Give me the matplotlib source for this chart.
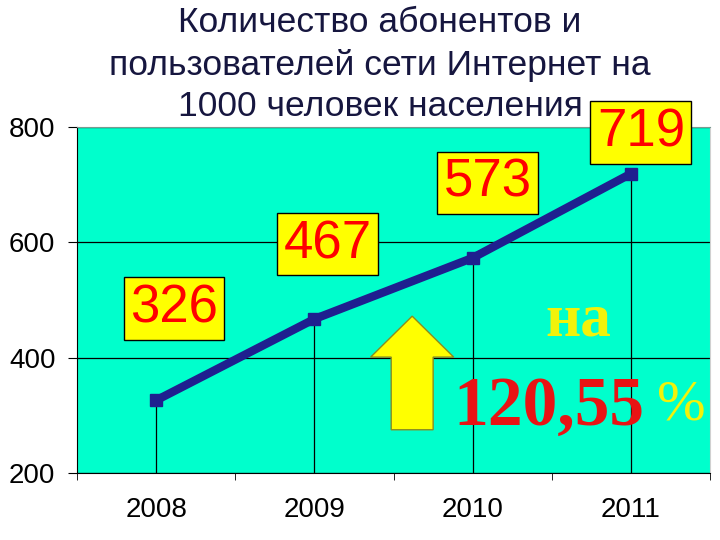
import numpy as np
from matplotlib import pyplot as plt
from matplotlib.patches import FancyArrow

years = ['2008', '2009', '2010', '2011']
users = [326, 467, 573, 719]
# label box offsets from each point, in pixels
label_offsets = [(18, 92), (13, 75), (15, 75), (10, 41)]
title_lines = ['Количество абонентов и',
               'пользователей сети Интернет на',
               '1000 человек населения']

fig = plt.figure(figsize=(7.2, 5.4), dpi=100)
ax = fig.add_axes([77 / 720, 67 / 540, 633 / 720, 346 / 540])
ax.set_facecolor('#00FFCC')

x = np.arange(len(years))
ax.vlines(x, 200, users, color='black', lw=0.9, zorder=2)
ax.plot(x, users, color='#1f1f8f', lw=6, marker='s', markersize=8,
        solid_capstyle='butt', zorder=4)

for xi, v, off in zip(x, users, label_offsets):
    ax.annotate(str(v), (xi, v), xytext=off, textcoords='offset pixels',
                ha='center', va='center', fontsize=38, color='#ff0000',
                family=['Liberation Sans', 'DejaVu Sans'], zorder=6,
                bbox=dict(boxstyle='square,pad=0.12', fc='#ffff00',
                          ec='black', lw=1))

ax.set_xlim(-0.5, 3.5)
ax.set_ylim(200, 800)
ax.set_yticks([200, 400, 600, 800])
ax.yaxis.grid(True, color='black', lw=0.9)
ax.set_axisbelow(True)
ax.tick_params(axis='y', length=6.5, pad=9, labelsize=20, direction='out')
for lab in ax.get_yticklabels():
    lab.set_family(['Liberation Sans', 'DejaVu Sans'])

ax.set_xticks(x)
ax.set_xticklabels(years, fontsize=20, family=['Liberation Sans', 'DejaVu Sans'])
ax.set_xticks(np.arange(-0.5, 4, 1), minor=True)
ax.tick_params(axis='x', which='major', length=0, pad=17)
ax.tick_params(axis='x', which='minor', length=5, direction='out')

ax.spines['top'].set_color('#7a9a90')
ax.spines['right'].set_color('#d0d0d0')
ax.spines['left'].set_color('black')
ax.spines['bottom'].set_color('black')

# growth arrow
arrow = FancyArrow(1.618, 275, 0, 197, width=0.265, head_width=0.525,
                   head_length=71, length_includes_head=True,
                   fc='#ffff00', ec='#8c8c1e', lw=1, zorder=5)
ax.add_patch(arrow)

ax.text(2.67, 439, 'на', ha='center', va='baseline', fontsize=44,
        fontweight='bold', color='#f2f20a',
        family=['Liberation Serif', 'DejaVu Serif'], zorder=6)
ax.text(2.48, 283, '120,55', ha='center', va='baseline', fontsize=50,
        fontweight='bold', color='#e81414',
        family=['Liberation Serif', 'DejaVu Serif'], zorder=6)
ax.text(3.32, 292, '%', ha='center', va='baseline', fontsize=42,
        color='#f2f20a', family=['Liberation Serif', 'DejaVu Serif'],
        zorder=6, clip_on=False)

for yc, line in zip([22, 66, 106], title_lines):
    fig.text(380 / 720, 1 - yc / 540, line, ha='center', va='center',
             fontsize=25.5, color='#16163f',
             family=['Liberation Sans', 'DejaVu Sans'])

fig.savefig('out.png', dpi=100)
plt.close(fig)
